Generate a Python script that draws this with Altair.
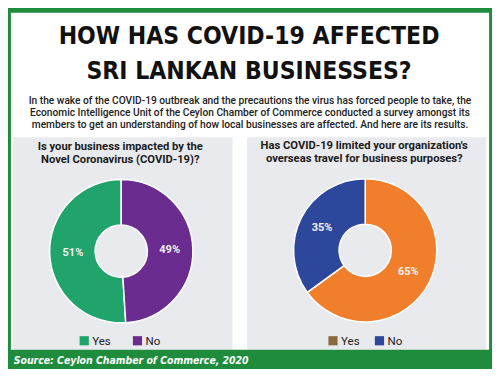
import altair as alt
import pandas as pd

# ---------------- data ----------------
title_lines = ["HOW HAS COVID-19 AFFECTED", "SRI LANKAN BUSINESSES?"]
intro_lines = [
    "In the wake of the COVID-19 outbreak and the precautions the virus has forced people to take, the",
    "Economic Intelligence Unit of the Ceylon Chamber of Commerce conducted a survey amongst its",
    "members to get an understanding of how local businesses are affected. And here are its results.",
]
q1_lines = ["Is your business impacted by the", "Novel Coronavirus (COVID-19)?"]
q2_lines = ["Has COVID-19 limited your organization's", "overseas travel for business purposes?"]
answers = ["Yes", "No"]
q1_values = [51, 49]
q2_values = [65, 35]
source_text = "Source: Ceylon Chamber of Commerce, 2020"

# ---------------- styles ----------------
GREEN_FRAME = "#1e8c3c"
PANEL = "#e9eaee"
Q1_COLORS = ["#20a46b", "#6b2c8f"]
Q2_COLORS = ["#f07e2b", "#2d479c"]
Q2_LEGEND = ["#8b6a3b", "#2d479c"]
TXT = "#1b1b1b"
COND = "'DejaVu Sans Condensed', 'Liberation Sans', sans-serif"
SANS = "Roboto, 'Noto Sans', sans-serif"

W, H = 484, 361
KX, KY = W / 500, H / 377


def X(v):
    return v * KX


def Y(v):
    return v * KY


one = pd.DataFrame({"k": [0]})


def rect(x0, x1, y0, y1, color):
    return alt.Chart(one).mark_rect(color=color).encode(
        x=alt.value(X(x0)), x2=alt.value(X(x1)), y=alt.value(Y(y0)), y2=alt.value(Y(y1))
    )


def text(lines, x, y, size, font=SANS, weight="normal", color=TXT, align="center",
         line_height=None, style="normal"):
    kw = dict(text=lines, font=font, fontSize=size, fontWeight=weight, color=color,
              align=align, baseline="alphabetic", fontStyle=style)
    if line_height:
        kw["lineHeight"] = line_height
    return alt.Chart(one).mark_text(**kw).encode(x=alt.value(X(x)), y=alt.value(Y(y)))


layers = []
# frame and panels
layers.append(rect(0, 500, 0, 377, "white"))
layers.append(rect(0, 500, 0, 5, GREEN_FRAME))
layers.append(rect(0, 3, 0, 377, GREEN_FRAME))
layers.append(rect(497, 500, 0, 377, GREEN_FRAME))
layers.append(rect(5, 232, 135, 357, PANEL))
layers.append(rect(247, 494, 135, 357, PANEL))
layers.append(rect(0, 500, 357, 377, GREEN_FRAME))

# headings
layers.append(text(title_lines, 249, 37.5, 24.5, font=COND, weight="bold", color="#111111",
                   line_height=Y(36.5)))
layers.append(text(intro_lines, 250, 100, 10.2, weight=500, color="#222222",
                   line_height=11.9))
layers.append(text(q1_lines, 116, 148.5, 11.2, weight="bold", line_height=Y(13.5)))
layers.append(text(q2_lines, 368, 147.5, 11.2, weight="bold", line_height=Y(13.5)))
layers.append(text([source_text], 6, 371.5, 10.4, font=COND, weight="bold", color="white",
                   align="left", style="italic"))

# donuts
R_OUT, R_IN, R_LAB = X(74), X(27), X(50)


def donut(values, colors, cx, cy, order_sort):
    df = pd.DataFrame({"answer": answers, "value": values})
    df["label"] = [f"{v}%" for v in values]
    base = alt.Chart(df).encode(
        theta=alt.Theta("value:Q", stack=True),
        order=alt.Order("answer:N", sort=order_sort),
        x=alt.value(X(cx)),
        y=alt.value(Y(cy)),
    )
    arc = base.mark_arc(innerRadius=R_IN, outerRadius=R_OUT, stroke="white",
                        strokeWidth=1.5).encode(
        color=alt.Color("answer:N", scale=alt.Scale(domain=answers, range=colors), legend=None)
    )
    lab = base.mark_text(radius=R_LAB, font=SANS, fontSize=11, fontWeight="bold",
                         color="#f2f2f2").encode(text="label:N")
    return [arc, lab]


layers += donut(q1_values, Q1_COLORS, 117, 254, "ascending")
layers += donut(q2_values, Q2_COLORS, 369, 253, "descending")


# manual legends
def legend(colors, x_positions, y):
    out = []
    for lab, col, xp in zip(answers, colors, x_positions):
        out.append(rect(xp, xp + 9.5, y - 4.8, y + 4.8, col))
        out.append(text([lab], xp + 13, y + 4, 11.5, color="#222222", align="left"))
    return out


layers += legend(Q1_COLORS, [74, 129], 347.5)
layers += legend(Q2_LEGEND, [331, 379], 347.5)

chart = (
    alt.layer(*layers)
    .resolve_scale(color="independent")
    .properties(width=W, height=H, padding=0, autosize=alt.AutoSizeParams(type="none"))
    .configure_view(stroke=None)
)

chart.save("out.html", embed_options={"renderer": "svg", "actions": False})
